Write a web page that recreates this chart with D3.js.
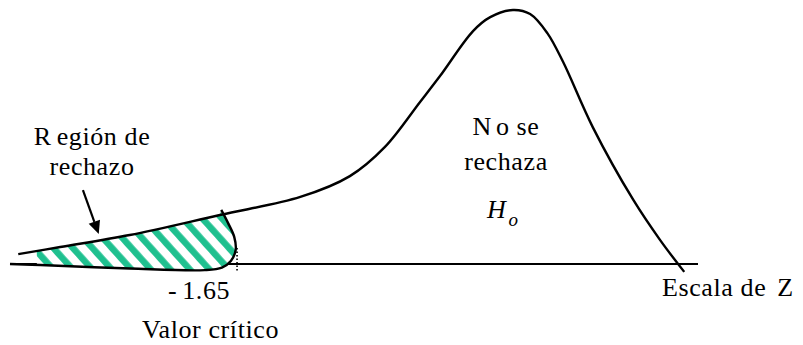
<!DOCTYPE html>
<html><head><meta charset="utf-8"><script src="https://cdn.jsdelivr.net/npm/d3@7"></script></head>
<body style="margin:0">
<svg id="chart" width="803" height="345" font-family="Liberation Serif"></svg>
<script>
// ---- Data (abstract units: x 0..100 along the Z scale, y 0..100 density) ----
const curveX = [1.2, 7.3, 17.4, 30.5, 42.2, 49.4, 54.5, 59.6, 62.5, 67.3, 69.8, 73.1, 75.6, 78.1, 80.4, 84.7, 90.6, 94.5, 98.0];
const curveY = [3.9, 6.7, 11.4, 19.3, 26.4, 34.6, 46.1, 63.8, 74.0, 91.7, 97.2, 100, 98.4, 90.9, 79.5, 53.9, 25.2, 9.4, -3.1];
// lower / right boundary of the rejection region (tail)
const tailX = [0, 4.4, 17.4, 28.3, 30.8, 32.1, 32.8, 32.6, 31.7, 30.7];
const tailY = [0, -0.4, -1.8, -2.4, -1.4, 1.2, 5.5, 10.6, 16.1, 21.3];
const tailUpperCount = 4;          // curve points that bound the tail from above
const shadeStartX = 3.9;           // hatching starts here
const criticalX = 33.0;            // -1.65 marker
const criticalLabel = "1.65";
const axisRange = [0, 100];
const arrowFrom = [10.6, 29.1];
const arrowTo = [12.9, 11.8];
const labelRegion = ["Región de", "rechazo"];
const labelAccept = ["No se", "rechaza"];
const labelCritical = "Valor crítico";
const labelScale = ["Escala de", "Z"];

// ---- Scales ----
const x = d3.scaleLinear().domain([0, 100]).range([10, 698]);
const y = d3.scaleLinear().domain([0, 100]).range([264, 10]);

const FONT = "Liberation Serif";
const svg = d3.select("#chart");

// ---- Text ----
const fs = 26;
function txt(xp, yp, anchor) {
  return svg.append("text").attr("x", xp).attr("y", yp)
    .attr("text-anchor", anchor || "start")
    .attr("font-family", FONT)
    .style("font-family", "'Liberation Serif'")
    .attr("letter-spacing", 0.6)
    .attr("font-size", fs);
}
// Región de rechazo
const t1 = txt(92, 145, "middle");
t1.append("tspan").text(labelRegion[0].slice(0, 1));
t1.append("tspan").attr("dx", 5).text(labelRegion[0].slice(1));
txt(92, 175, "middle").text(labelRegion[1]);

// No se rechaza Ho
const t2 = txt(506, 135, "middle");
t2.append("tspan").text(labelAccept[0].slice(0, 1));
t2.append("tspan").attr("dx", 4).text(labelAccept[0].slice(1));
txt(506, 170, "middle").text(labelAccept[1]);
const h = txt(487, 218).attr("font-style", "italic");
h.append("tspan").text("H");
h.append("tspan").attr("dx", 2).attr("dy", 8).attr("font-size", 19).text("o");

// -1.65
const t3 = txt(168, 299);
t3.append("tspan").text("-");
t3.append("tspan").attr("dx", 5).text(criticalLabel);

txt(142, 338).text(labelCritical);

const t4 = txt(662, 296);
t4.append("tspan").text(labelScale[0]);
t4.append("tspan").attr("dx", 11).text(labelScale[1]);

// ---- Graphics ----
const g = svg.insert("g", ":first-child");
const defs = svg.insert("defs", ":first-child");

const pat = defs.append("pattern")
  .attr("id", "hatch")
  .attr("patternUnits", "userSpaceOnUse")
  .attr("width", 14.5).attr("height", 14.5)
  .attr("patternTransform", "rotate(-42)");
pat.append("rect").attr("width", 14.5).attr("height", 14.5).attr("fill", "#fff");
pat.append("rect").attr("x", 1).attr("width", 6.5).attr("height", 14.5).attr("fill", "#1fc08f");

defs.append("clipPath").attr("id", "shadeClip")
  .append("rect")
  .attr("x", x(shadeStartX)).attr("y", 0)
  .attr("width", 803).attr("height", 345);

const curvePts = curveX.map((v, i) => [v, curveY[i]]);
const tailPts = tailX.map((v, i) => [v, tailY[i]]);
const line = d3.line().x(d => x(d[0])).y(d => y(d[1])).curve(d3.curveCatmullRom.alpha(0.5));

// baseline (Z axis)
g.append("line")
  .attr("x1", x(axisRange[0])).attr("x2", x(axisRange[1]))
  .attr("y1", y(0)).attr("y2", y(0))
  .attr("stroke", "#000").attr("stroke-width", 2.2);

// shaded rejection region
const upperD = line(curvePts.slice(0, tailUpperCount));
const lowerRev = line(tailPts.slice().reverse()).replace(/^M/, "L");
g.append("path")
  .attr("d", upperD + lowerRev + "Z")
  .attr("fill", "url(#hatch)")
  .attr("clip-path", "url(#shadeClip)");

// dotted critical value marker
g.append("line")
  .attr("x1", x(criticalX)).attr("x2", x(criticalX))
  .attr("y1", y(6.3)).attr("y2", y(-3.1))
  .attr("stroke", "#000").attr("stroke-width", 1.6)
  .attr("stroke-dasharray", "1.5,2");

// density curve
g.append("path")
  .attr("d", line(curvePts))
  .attr("fill", "none").attr("stroke", "#000").attr("stroke-width", 2.4);

// tail boundary
g.append("path")
  .attr("d", line(tailPts))
  .attr("fill", "none").attr("stroke", "#000").attr("stroke-width", 2.4);

// arrow (shaft + head drawn from the same two points)
const ax0 = x(arrowFrom[0]), ay0 = y(arrowFrom[1]), ax1 = x(arrowTo[0]), ay1 = y(arrowTo[1]);
const ang = Math.atan2(ay1 - ay0, ax1 - ax0);
const headL = 13, headW = 6;
const bx = ax1 - headL * Math.cos(ang), by = ay1 - headL * Math.sin(ang);
g.append("line")
  .attr("x1", ax0).attr("y1", ay0).attr("x2", bx).attr("y2", by)
  .attr("stroke", "#000").attr("stroke-width", 2.2);
g.append("path")
  .attr("d", d3.line()([
    [ax1, ay1],
    [bx + headW * Math.sin(ang), by - headW * Math.cos(ang)],
    [bx - headW * Math.sin(ang), by + headW * Math.cos(ang)]
  ]) + "Z")
  .attr("fill", "#000");
</script>
</body>
</html>
